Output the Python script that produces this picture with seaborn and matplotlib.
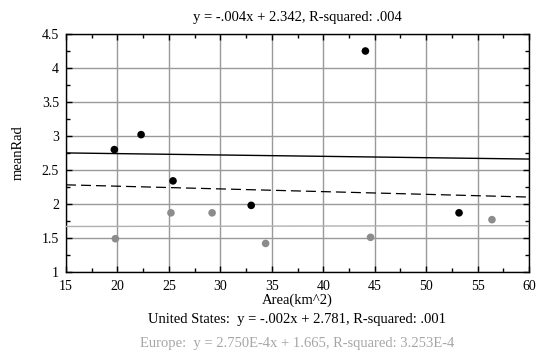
import matplotlib
matplotlib.use("Agg")
import matplotlib.pyplot as plt
from matplotlib.ticker import MultipleLocator
import seaborn as sns
import pandas as pd
import numpy as np

us_area = [19.7, 22.3, 25.4, 33.0, 44.1, 53.2]
us_rad = [2.80, 3.02, 2.34, 1.98, 4.25, 1.87]
eu_area = [19.8, 25.2, 29.2, 34.4, 44.6, 56.4]
eu_rad = [1.49, 1.87, 1.87, 1.42, 1.51, 1.77]

fit_names = ["All", "United States", "Europe"]
fit_slopes = [-0.004, -0.002, 2.750e-4]
fit_intercepts = [2.342, 2.781, 1.665]
fit_xrange = [15, 60]

sns.set_theme(style="white")
plt.rcParams["font.family"] = ["Liberation Serif", "DejaVu Serif"]

df = pd.DataFrame({
    "Area": us_area + eu_area,
    "meanRad": us_rad + eu_rad,
    "Region": ["United States"] * len(us_area) + ["Europe"] * len(eu_area),
})

fig = plt.figure(figsize=(5.5, 3.54), dpi=100)
ax = fig.add_axes([66 / 550, 1 - 272 / 354, 463 / 550, 238 / 354])

ax.set_xlim(15, 60)
ax.set_ylim(1, 4.5)
ax.xaxis.set_major_locator(MultipleLocator(5))
ax.xaxis.set_minor_locator(MultipleLocator(2.5))
ax.yaxis.set_major_locator(MultipleLocator(0.5))
ax.yaxis.set_minor_locator(MultipleLocator(0.25))
ax.grid(True, which="major", color="#999999", linewidth=1.0)
ax.set_axisbelow(True)

styles = {
    "All": dict(color="black", linestyle=(0, (8, 4)), linewidth=0.9),
    "United States": dict(color="black", linestyle="-", linewidth=1.0),
    "Europe": dict(color="#b0b0b0", linestyle="-", linewidth=1.0),
}
fx = np.array(fit_xrange, dtype=float)
for name, m, b in zip(fit_names, fit_slopes, fit_intercepts):
    sns.lineplot(x=fx, y=m * fx + b, ax=ax, **styles[name], zorder=3)

sns.scatterplot(data=df, x="Area", y="meanRad", hue="Region",
                palette={"United States": "black", "Europe": "#8c8c8c"},
                s=30, edgecolor="none", legend=False, ax=ax, zorder=4)

for side in ["left", "right", "top", "bottom"]:
    ax.spines[side].set_visible(True)
    ax.spines[side].set_color("black")
    ax.spines[side].set_linewidth(1.0)

ax.tick_params(which="both", direction="in", top=True, right=True,
               bottom=True, left=True, color="black", labelsize=10,
               labelcolor="black")
ax.tick_params(axis="x", which="both", pad=6)
ax.tick_params(axis="y", which="both", pad=5)
ax.tick_params(which="major", length=4, width=1)
ax.tick_params(which="minor", length=3, width=1)
ax.set_xticks([15, 20, 25, 30, 35, 40, 45, 50, 55, 60])
ax.set_xticklabels(["15", "20", "25", "30", "35", "40", "45", "50", "55", "60"])
ax.set_yticks([1, 1.5, 2, 2.5, 3, 3.5, 4, 4.5])
ax.set_yticklabels(["1", "1.5", "2", "2.5", "3", "3.5", "4", "4.5"])

ax.set_xlabel("Area(km^2)", fontsize=10.5, labelpad=0, color="black")
ax.set_ylabel("meanRad", fontsize=10.5, labelpad=12, color="black")
ax.set_title("y = -.004x + 2.342, R-squared: .004", fontsize=10.5, pad=9, color="black")

fig.text(297 / 550, 1 - 320 / 354, "United States:  y = -.002x + 2.781, R-squared: .001",
         ha="center", va="center", fontsize=10.5, color="black")
fig.text(297 / 550, 1 - 343 / 354, "Europe:  y = 2.750E-4x + 1.665, R-squared: 3.253E-4",
         ha="center", va="center", fontsize=10.5, color="#a6a6a6")

fig.savefig("out.png", dpi=100)
